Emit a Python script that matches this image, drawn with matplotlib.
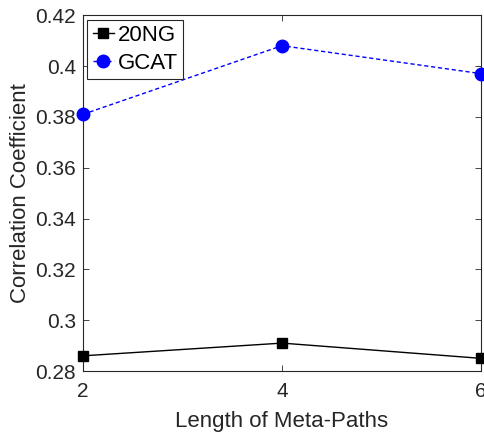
import matplotlib
matplotlib.use("Agg")
import matplotlib.pyplot as plt

plt.rcParams['font.family'] = ['Liberation Sans', 'DejaVu Sans']

x = [2, 4, 6]
ng20 = [0.286, 0.291, 0.285]
gcat = [0.381, 0.408, 0.397]
xticks = [2, 4, 6]
yticks = [0.28, 0.30, 0.32, 0.34, 0.36, 0.38, 0.40, 0.42]
yticklabels = ['0.28', '0.3', '0.32', '0.34', '0.36', '0.38', '0.4', '0.42']

fig = plt.figure(figsize=(4.85, 4.34), dpi=100)
ax = fig.add_axes([0.171, 0.145, 0.821, 0.820])
gray = '#262626'
ax.plot(x, ng20, color='black', lw=1.0, marker='s', markersize=7, label='20NG', clip_on=False, zorder=3)
ax.plot(x, gcat, color='#0000ff', lw=1.0, ls=(0, (3, 2)), marker='o', markersize=9,
        markerfacecolor='#0000ff', markeredgecolor='#0000ff', label='GCAT', clip_on=False, zorder=3)
ax.set_xlim(2, 6)
ax.set_ylim(0.28, 0.42)
ax.set_xticks(xticks)
ax.set_yticks(yticks)
ax.set_yticklabels(yticklabels)
ax.tick_params(direction='in', top=True, right=True, labelsize=15, colors=gray, length=4, width=0.6)
ax.tick_params(axis='x', pad=8)
ax.tick_params(axis='y', pad=5)
for s in ax.spines.values():
    s.set_color(gray)
    s.set_linewidth(0.8)
ax.set_xlabel('Length of Meta-Paths', fontsize=16, color=gray, labelpad=7)
ax.set_ylabel('Correlation Coefficient', fontsize=16, color=gray, labelpad=3)
leg = ax.legend(loc='upper left', fontsize=16, frameon=True, fancybox=False, handlelength=0.95,
                handletextpad=0.15, borderpad=0.25, labelspacing=0.3, borderaxespad=0.2)
leg.get_frame().set_edgecolor(gray)
leg.get_frame().set_linewidth(0.8)
leg.get_frame().set_alpha(1)
for t in leg.get_texts():
    t.set_color('black')
fig.savefig('out.png', dpi=100)
